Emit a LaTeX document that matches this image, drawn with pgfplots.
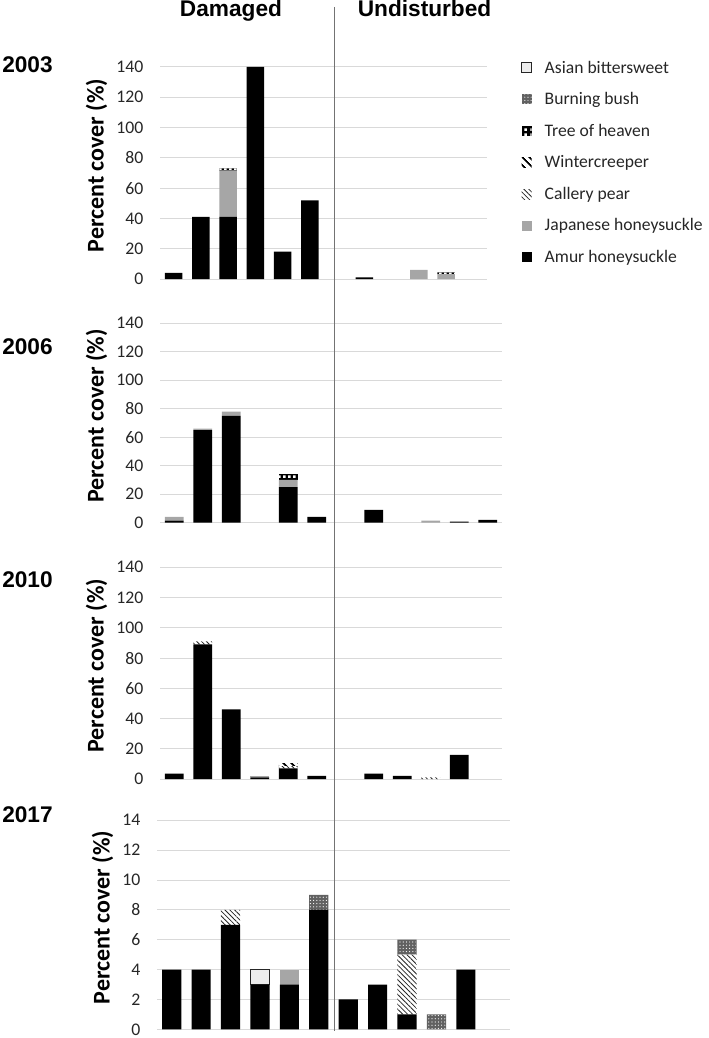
\documentclass[border=0pt]{standalone}
\usepackage{fontspec}
\setmainfont{Carlito}
\newfontfamily\arialfont{Liberation Sans}
\usepackage{pgfplots}
\pgfplotsset{compat=1.18}
\usepackage{pgfplotstable}
\usetikzlibrary{patterns,patterns.meta}

\tikzdeclarepattern{
  name=tohsq,
  type=uncolored,
  bottom left={(0pt,0pt)},
  top right={(4pt,4pt)},
  tile size={(4pt,4pt)},
  code={\fill (1pt,1pt) rectangle (3pt,3pt);}
}

\pgfplotstableread{
x amur jap callery winter toh burn
1  4   0    0 0 0   0
2  41  0    0 0 0   0
3  41  30.5 0 0 1.5 0
4  140 0    0 0 0   0
5  18  0    0 0 0   0
6  52  0    0 0 0   0
7  0   0    0 0 0   0
8  1   0    0 0 0   0
9  0   0    0 0 0   0
10 0   6    0 0 0   0
11 0   3.3  0 0 1   0
12 0   0    0 0 0   0
}\tA

\pgfplotstableread{
x amur jap callery winter toh burn
1  1.5 2.5 0 0 0 0
2  65  1   0 0 0 0
3  75  3   0 0 0 0
4  0   0   0 0 0 0
5  25  5   0 0 4 0
6  4   0   0 0 0 0
7  0   0   0 0 0 0
8  9   0   0 0 0 0
9  0   0   0 0 0 0
10 0   1.5 0 0 0 0
11 0.8 0   0 0 0 0
12 2   0   0 0 0 0
}\tB

\pgfplotstableread{
x amur jap callery winter toh burn
1  3.5 0   0   0 0 0
2  89  0   2   0 0 0
3  46  0   0   0 0 0
4  1   0.8 0   0 0 0
5  7   0   1.5 2 0 0
6  2   0   0   0 0 0
7  0   0   0   0 0 0
8  3.5 0   0   0 0 0
9  2   0   0   0 0 0
10 0   0   1   0 0 0
11 16  0   0   0 0 0
12 0   0   0   0 0 0
}\tC

% 2017 (row of site 4 first, so that the Asian bittersweet series stacks on it)
\pgfplotstableread{
x amur jap callery winter toh burn
4  3 0 0 0 0 0
1  4 0 0 0 0 0
2  4 0 0 0 0 0
3  7 0 1 0 0 0
5  3 1 0 0 0 0
6  8 0 0 0 0 1
7  2 0 0 0 0 0
8  3 0 0 0 0 0
9  1 0 4 0 0 1
10 0 0 0 0 0 1
11 4 0 0 0 0 0
12 0 0 0 0 0 0
}\tD
\pgfplotstableread{
x asian
4 1
}\tDasian

\pgfplotsset{
  amur/.style={fill=black, draw=none},
  jap/.style={fill=black!35, draw=none},
  callery/.style={fill=white, draw=none, postaction={pattern={Lines[angle=-45,distance=2.6pt,line width=0.6pt]}, pattern color=black!85}},
  winter/.style={fill=white, draw=none, postaction={pattern={Lines[angle=-45,distance=4pt,line width=1.5pt]}, pattern color=black}},
  toh/.style={fill=black, draw=none, postaction={pattern=tohsq, pattern color=white}},
  burn/.style={fill=black!62, draw=none, postaction={pattern={Dots[radius=0.45pt,distance=2.4pt]}, pattern color=white}},
  asian/.style={fill=black!7, draw=black!85, line width=0.6pt},
  panel/.style={
    scale only axis, ybar stacked, bar width=0.65,
    xmin=0.5, xmax=12.5, ymin=0, enlargelimits=false,
    xtick=\empty,
    axis line style={draw=none},
    major tick style={draw=none},
    ymajorgrids, grid style={color=black!15, line width=0.75pt},
    tick label style={font=\fontsize{13.3}{15}\selectfont, text=black!85},
    /pgf/number format/assume math mode=true,
    yticklabel style={xshift=-9pt},
    ylabel={Percent cover (\%)},
    ylabel style={font=\bfseries\fontsize{18}{21}\selectfont, at={(ticklabel cs:0.535)}},
    legend image code/.code={\path[##1] (0pt,-3.75pt) rectangle (7.5pt,3.75pt);},
  },
  big/.style={ymax=140, ytick={0,20,...,140}},
}

\begin{document}
\begin{tikzpicture}
\useasboundingbox (0,0) rectangle (531.75pt,-778.5pt);

% 2003
\begin{axis}[panel, big, at={(120pt,-209.25pt)}, anchor=south west,
  width=245.25pt, height=159pt,
  reverse legend,
  legend style={at={(axis description cs:1.104,1.04)}, anchor=north west,
    draw=none, fill=none, font=\fontsize{13.2}{16}\selectfont,
    row sep=10pt, column sep=8pt, inner sep=0pt, nodes={inner sep=1.5pt, text=black!85}},
  legend cell align=left]
\addplot[amur] table[x=x,y=amur]{\tA}; \addlegendentry{Amur honeysuckle}
\addplot[jap] table[x=x,y=jap]{\tA}; \addlegendentry{Japanese honeysuckle}
\addplot[callery] table[x=x,y=callery]{\tA}; \addlegendentry{Callery pear}
\addplot[winter] table[x=x,y=winter]{\tA}; \addlegendentry{Wintercreeper}
\addplot[toh] table[x=x,y=toh]{\tA}; \addlegendentry{Tree of heaven}
\addplot[burn] table[x=x,y=burn]{\tA}; \addlegendentry{Burning bush}
\addlegendimage{asian} \addlegendentry{Asian bittersweet}
\end{axis}

% 2006
\begin{axis}[panel, big, at={(120pt,-392pt)}, anchor=south west,
  width=256.5pt, height=149.55pt]
\addplot[amur] table[x=x,y=amur]{\tB};
\addplot[jap] table[x=x,y=jap]{\tB};
\addplot[callery] table[x=x,y=callery]{\tB};
\addplot[winter] table[x=x,y=winter]{\tB};
\addplot[toh] table[x=x,y=toh]{\tB};
\addplot[burn] table[x=x,y=burn]{\tB};
\end{axis}

% 2010
\begin{axis}[panel, big, at={(120pt,-584.25pt)}, anchor=south west,
  width=256.5pt, height=158.8pt]
\addplot[amur] table[x=x,y=amur]{\tC};
\addplot[jap] table[x=x,y=jap]{\tC};
\addplot[callery] table[x=x,y=callery]{\tC};
\addplot[winter] table[x=x,y=winter]{\tC};
\addplot[toh] table[x=x,y=toh]{\tC};
\addplot[burn] table[x=x,y=burn]{\tC};
\end{axis}

% 2017
\begin{axis}[panel, ymax=14, ytick={0,2,...,14}, at={(117.75pt,-772pt)}, anchor=south west,
  width=264.75pt, height=156.8pt]
\addplot[amur] table[x=x,y=amur]{\tD};
\addplot[jap] table[x=x,y=jap]{\tD};
\addplot[callery] table[x=x,y=callery]{\tD};
\addplot[winter] table[x=x,y=winter]{\tD};
\addplot[toh] table[x=x,y=toh]{\tD};
\addplot[burn] table[x=x,y=burn]{\tD};
\addplot[asian] table[x=x,y=asian]{\tDasian};
\end{axis}

\draw[black!55, line width=0.75pt] (250.5pt,-5.25pt) -- (250.5pt,-773.25pt);

\begin{scope}[every node/.style={font=\arialfont\bfseries\fontsize{17}{20}\selectfont, inner sep=0pt}]
\node[anchor=base] at (173.25pt,-12.75pt) {Damaged};
\node[anchor=base] at (318.4pt,-12.75pt) {Undisturbed};
\node[anchor=base west] at (1.5pt,-54.5pt) {2003};
\node[anchor=base west] at (1.5pt,-265.5pt) {2006};
\node[anchor=base west] at (1.5pt,-440.8pt) {2010};
\node[anchor=base west] at (1.5pt,-617pt) {2017};
\end{scope}
\end{tikzpicture}
\end{document}
